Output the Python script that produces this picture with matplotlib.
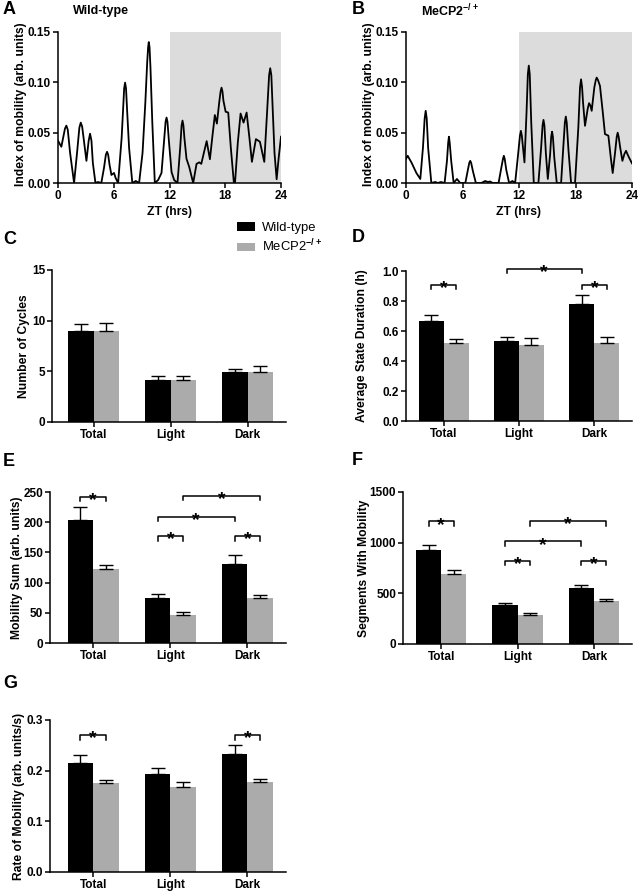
import numpy as np
import matplotlib
matplotlib.use('Agg')
import matplotlib.pyplot as plt
from matplotlib.ticker import FormatStrFormatter

plt.rcParams['font.family'] = ['Liberation Sans', 'DejaVu Sans']
plt.rcParams['font.weight'] = 'bold'
plt.rcParams['axes.labelweight'] = 'bold'
plt.rcParams['mathtext.fontset'] = 'custom'
plt.rcParams['mathtext.rm'] = 'Liberation Sans'
plt.rcParams['mathtext.bf'] = 'Liberation Sans:bold'

W, H = 641, 893

# ---- data ----
groups = ['Total', 'Light', 'Dark']

# panel A / B : index of mobility over one day (ZT hrs)
wt_zt = [0.0, 0.36, 0.75, 0.9, 1.05, 1.3, 1.73, 2.05, 2.3, 2.45, 2.6, 2.75, 3.06, 3.3,
         3.45, 3.6, 3.75, 4.03, 4.3, 4.66, 4.95, 5.15, 5.28, 5.4, 5.55, 5.75, 6.03, 6.2,
         6.47, 6.85, 7.0, 7.12, 7.22, 7.32, 7.45, 7.65, 8.0, 8.37, 8.73, 9.1, 9.4, 9.6,
         9.7, 9.77, 9.85, 9.95, 10.15, 10.42, 10.78, 11.14, 11.4, 11.58, 11.68, 11.78,
         11.95, 12.22, 12.5, 12.86, 13.15, 13.3, 13.4, 13.5, 13.6, 13.83, 14.12, 14.55,
         14.91, 15.2, 15.42, 15.7, 16.0, 16.35, 16.6, 16.88, 17.1, 17.35, 17.5, 17.6, 17.7,
         17.8, 18.04, 18.32, 18.6, 18.93, 19.05, 19.35, 19.65, 19.97, 20.3, 20.6, 20.87,
         21.3, 21.73, 22.2, 22.5, 22.72, 22.84, 22.96, 23.1, 23.3, 23.53, 23.75, 24.0]
wt_mob = [0.042, 0.036, 0.054, 0.057, 0.053, 0.03, 0.0, 0.03, 0.055, 0.060, 0.056, 0.045,
          0.022, 0.042, 0.049, 0.042, 0.02, 0.0, 0.001, 0.0, 0.015, 0.028, 0.031, 0.028,
          0.018, 0.008, 0.01, 0.005, 0.0, 0.045, 0.072, 0.094, 0.0997, 0.094, 0.07, 0.035,
          0.0, 0.002, 0.0, 0.03, 0.08, 0.12, 0.135, 0.140, 0.135, 0.115, 0.06, 0.0, 0.003,
          0.01, 0.04, 0.061, 0.065, 0.061, 0.04, 0.011, 0.003, 0.0, 0.035, 0.057, 0.062,
          0.057, 0.045, 0.024, 0.016, 0.0, 0.019, 0.0205, 0.019, 0.03, 0.0416, 0.0236,
          0.045, 0.0675, 0.059, 0.08, 0.091, 0.0947, 0.091, 0.082, 0.0708, 0.070, 0.035,
          0.0, 0.0, 0.04, 0.069, 0.060, 0.070, 0.045, 0.021, 0.0436, 0.041, 0.021, 0.07,
          0.107, 0.114, 0.107, 0.075, 0.03, 0.0037, 0.025, 0.046]

het_zt = [0.0, 0.18, 0.6, 1.1, 1.52, 1.8, 1.98, 2.09, 2.2, 2.35, 2.69, 3.1, 3.4, 3.7, 4.1,
          4.35, 4.48, 4.56, 4.64, 4.8, 5.06, 5.41, 5.76, 6.3, 6.55, 6.72, 6.82, 6.92, 7.1,
          7.42, 8.0, 8.41, 8.7, 8.94, 9.2, 9.83, 10.1, 10.3, 10.39, 10.48, 10.65, 10.95,
          11.3, 11.59, 11.9, 12.1, 12.2, 12.3, 12.58, 12.8, 12.94, 13.04, 13.14, 13.3,
          13.57, 14.06, 14.35, 14.5, 14.6, 14.7, 14.85, 15.06, 15.3, 15.42, 15.51, 15.6,
          15.75, 16.01, 16.47, 16.7, 16.87, 16.97, 17.07, 17.25, 17.53, 17.95, 18.3, 18.48,
          18.59, 18.7, 18.8, 19.01, 19.3, 19.44, 19.58, 19.72, 20.0, 20.15, 20.25, 20.4,
          20.6, 20.9, 21.13, 21.49, 21.75, 21.95, 22.2, 22.38, 22.48, 22.58, 22.75, 22.98,
          23.2, 23.37, 23.5, 23.7, 24.0]
het_mob = [0.024, 0.027, 0.02, 0.01, 0.004, 0.035, 0.064, 0.0717, 0.064, 0.035, 0.0, 0.001,
           0.0, 0.001, 0.0, 0.022, 0.04, 0.046, 0.04, 0.022, 0.0, 0.004, 0.0, 0.0, 0.012,
           0.02, 0.022, 0.02, 0.012, 0.0, 0.0, 0.002, 0.001, 0.0015, 0.0, 0.0, 0.014, 0.024,
           0.027, 0.024, 0.013, 0.0, 0.002, 0.0, 0.028, 0.047, 0.0518, 0.047, 0.0205, 0.07,
           0.108, 0.1166, 0.108, 0.06, 0.0, 0.0, 0.035, 0.057, 0.0627, 0.057, 0.03, 0.004,
           0.028, 0.046, 0.051, 0.046, 0.025, 0.0, 0.0, 0.035, 0.06, 0.066, 0.06, 0.033,
           0.0, 0.0, 0.055, 0.095, 0.103, 0.095, 0.08, 0.0568, 0.074, 0.0793, 0.077, 0.0717,
           0.095, 0.102, 0.1047, 0.102, 0.0964, 0.07, 0.0486, 0.047, 0.025, 0.0099, 0.03,
           0.046, 0.050, 0.046, 0.035, 0.022, 0.029, 0.032, 0.029, 0.025, 0.0195]

# panel C
cycles_wt = [9.0, 4.15, 4.9]
cycles_wt_err = [0.72, 0.4, 0.36]
cycles_het = [9.0, 4.1, 4.9]
cycles_het_err = [0.8, 0.45, 0.58]
# panel D
dur_wt = [0.667, 0.535, 0.778]
dur_wt_err = [0.043, 0.025, 0.062]
dur_het = [0.52, 0.504, 0.52]
dur_het_err = [0.025, 0.051, 0.038]
# panel E
sum_wt = [204, 75, 130]
sum_wt_err = [21, 6.5, 15]
sum_het = [122, 47, 75]
sum_het_err = [7, 5, 4]
# panel F
seg_wt = [931, 385, 549]
seg_wt_err = [43, 20, 33]
seg_het = [694, 283, 421]
seg_het_err = [33, 20, 20]
# panel G
rate_wt = [0.216, 0.193, 0.232]
rate_wt_err = [0.015, 0.012, 0.019]
rate_het = [0.175, 0.167, 0.178]
rate_het_err = [0.006, 0.011, 0.006]

# significance brackets: (group, series) -> (group, series), height
dur_sig = [((0, 0), (0, 1), 0.91), ((1, 0), (2, 0), 1.015), ((2, 0), (2, 1), 0.91)]
sum_sig = [((0, 0), (0, 1), 242), ((1, 0), (1, 1), 177), ((1, 0), (2, 0), 209),
           ((1, 1), (2, 1), 244), ((2, 0), (2, 1), 177)]
seg_sig = [((0, 0), (0, 1), 1210), ((1, 0), (1, 1), 822), ((1, 0), (2, 0), 1013),
           ((1, 1), (2, 1), 1214), ((2, 0), (2, 1), 822)]
rate_sig = [((0, 0), (0, 1), 0.27), ((2, 0), (2, 1), 0.27)]

BW = 0.33
GRAY = '#ababab'


def box(l, t, r, b):
    return [l / W, 1 - b / H, (r - l) / W, (b - t) / H]


def style(ax):
    for s in ['top', 'right']:
        ax.spines[s].set_visible(False)
    for s in ['left', 'bottom']:
        ax.spines[s].set_linewidth(1.1)
    ax.tick_params(direction='out', length=3.5, width=1.1, labelsize=8.5, pad=1.5)


def trace(ax, zt, mob, labx):
    ax.axvspan(12, 24, color='#dcdcdc', lw=0, zorder=0)
    ax.plot(zt, mob, color='k', lw=1.3, solid_joinstyle='round', zorder=2)
    ax.set_xlim(0, 24)
    ax.set_ylim(0, 0.15)
    ax.set_xticks([0, 6, 12, 18, 24])
    ax.set_yticks([0, 0.05, 0.10, 0.15])
    ax.yaxis.set_major_formatter(FormatStrFormatter('%.2f'))
    style(ax)
    ax.set_xlabel('ZT (hrs)', fontsize=8.7, labelpad=3)
    ax.set_ylabel('Index of mobility (arb. units)', fontsize=8.7)
    ax.yaxis.set_label_coords(labx, 0.52)


def bars(ax, wt, wte, het, hete, ytop, yticks, fmt, ylabel, labx, xl, sig=()):
    x = np.arange(len(groups))
    ekw = dict(ecolor='k', elinewidth=1, capsize=5, capthick=1)
    b1 = ax.bar(x - BW / 2, wt, BW, color='k', yerr=[np.zeros(3), wte], error_kw=ekw,
                label='Wild-type')
    b2 = ax.bar(x + BW / 2, het, BW, color=GRAY, yerr=[np.zeros(3), hete], error_kw=ekw,
                label='MeCP2$^{-/+}$')
    ax.set_xlim(xl, 2.5)
    ax.set_ylim(0, ytop)
    ax.set_yticks(yticks)
    ax.yaxis.set_major_formatter(FormatStrFormatter(fmt))
    ax.set_xticks(x)
    ax.set_xticklabels(groups, fontsize=9.5)
    style(ax)
    ax.set_ylabel(ylabel, fontsize=8.7)
    ax.yaxis.set_label_coords(labx, 0.5)
    d = 0.03 * ytop
    for (g1, s1), (g2, s2), y in sig:
        x1 = g1 + (s1 - 0.5) * BW
        x2 = g2 + (s2 - 0.5) * BW
        ax.plot([x1, x1, x2, x2], [y - d, y, y, y - d], color='k', lw=1.1, clip_on=False)
        ax.annotate('*', xy=((x1 + x2) / 2, y), xytext=(0, -6), textcoords='offset points',
                    ha='center', va='baseline', fontsize=14, annotation_clip=False)
    return b1, b2


fig = plt.figure(figsize=(W / 100, H / 100), dpi=100)

axA = fig.add_axes(box(58, 32, 281, 183))
trace(axA, wt_zt, wt_mob, -0.139)
axB = fig.add_axes(box(406, 32, 632, 183))
trace(axB, het_zt, het_mob, -0.137)

axC = fig.add_axes(box(52, 270, 286, 422))
hC = bars(axC, cycles_wt, cycles_wt_err, cycles_het, cycles_het_err, 15, [0, 5, 10, 15],
          '%d', 'Number of Cycles', -0.094, -0.54)
axD = fig.add_axes(box(406, 271, 632, 421))
bars(axD, dur_wt, dur_wt_err, dur_het, dur_het_err, 1.0, [0, 0.2, 0.4, 0.6, 0.8, 1.0],
     '%.1f', 'Average State Duration (h)', -0.168, -0.5, dur_sig)
axE = fig.add_axes(box(50, 492, 286, 643))
bars(axE, sum_wt, sum_wt_err, sum_het, sum_het_err, 250, [0, 50, 100, 150, 200, 250],
     '%d', 'Mobility Sum (arb. units)', -0.114, -0.56, sum_sig)
axF = fig.add_axes(box(403, 492, 632, 644))
bars(axF, seg_wt, seg_wt_err, seg_het, seg_het_err, 1500, [0, 500, 1000, 1500],
     '%d', 'Segments With Mobility', -0.144, -0.5, seg_sig)
axG = fig.add_axes(box(50, 720, 286, 872))
bars(axG, rate_wt, rate_wt_err, rate_het, rate_het_err, 0.3, [0, 0.1, 0.2, 0.3],
     '%.1f', 'Rate of Mobility (arb. units/s)', -0.106, -0.56, rate_sig)

axC.legend(handles=list(hC), loc='upper left', bbox_to_anchor=(237 / W, 1 - 222 / H),
           bbox_transform=fig.transFigure, frameon=False, borderpad=0, borderaxespad=0,
           handlelength=1.35, handleheight=0.65, handletextpad=0.55, labelspacing=0.3,
           prop=dict(size=9.4, weight='normal'))

# panel letters and titles
for lab, px, py in [('A', 3, 10), ('B', 352, 10), ('C', 3, 240), ('D', 352, 238),
                    ('E', 3, 462), ('F', 352, 460), ('G', 3, 683)]:
    fig.text(px / W, 1 - py / H, lab, fontsize=13, va='center', ha='left')
fig.text(73 / W, 1 - 11 / H, 'Wild-type', fontsize=9, va='center')
fig.text(421 / W, 1 - 11 / H, r'MeCP2$^{\mathbf{-/+}}$', fontsize=9, va='center')

fig.savefig('out.png', dpi=100)
